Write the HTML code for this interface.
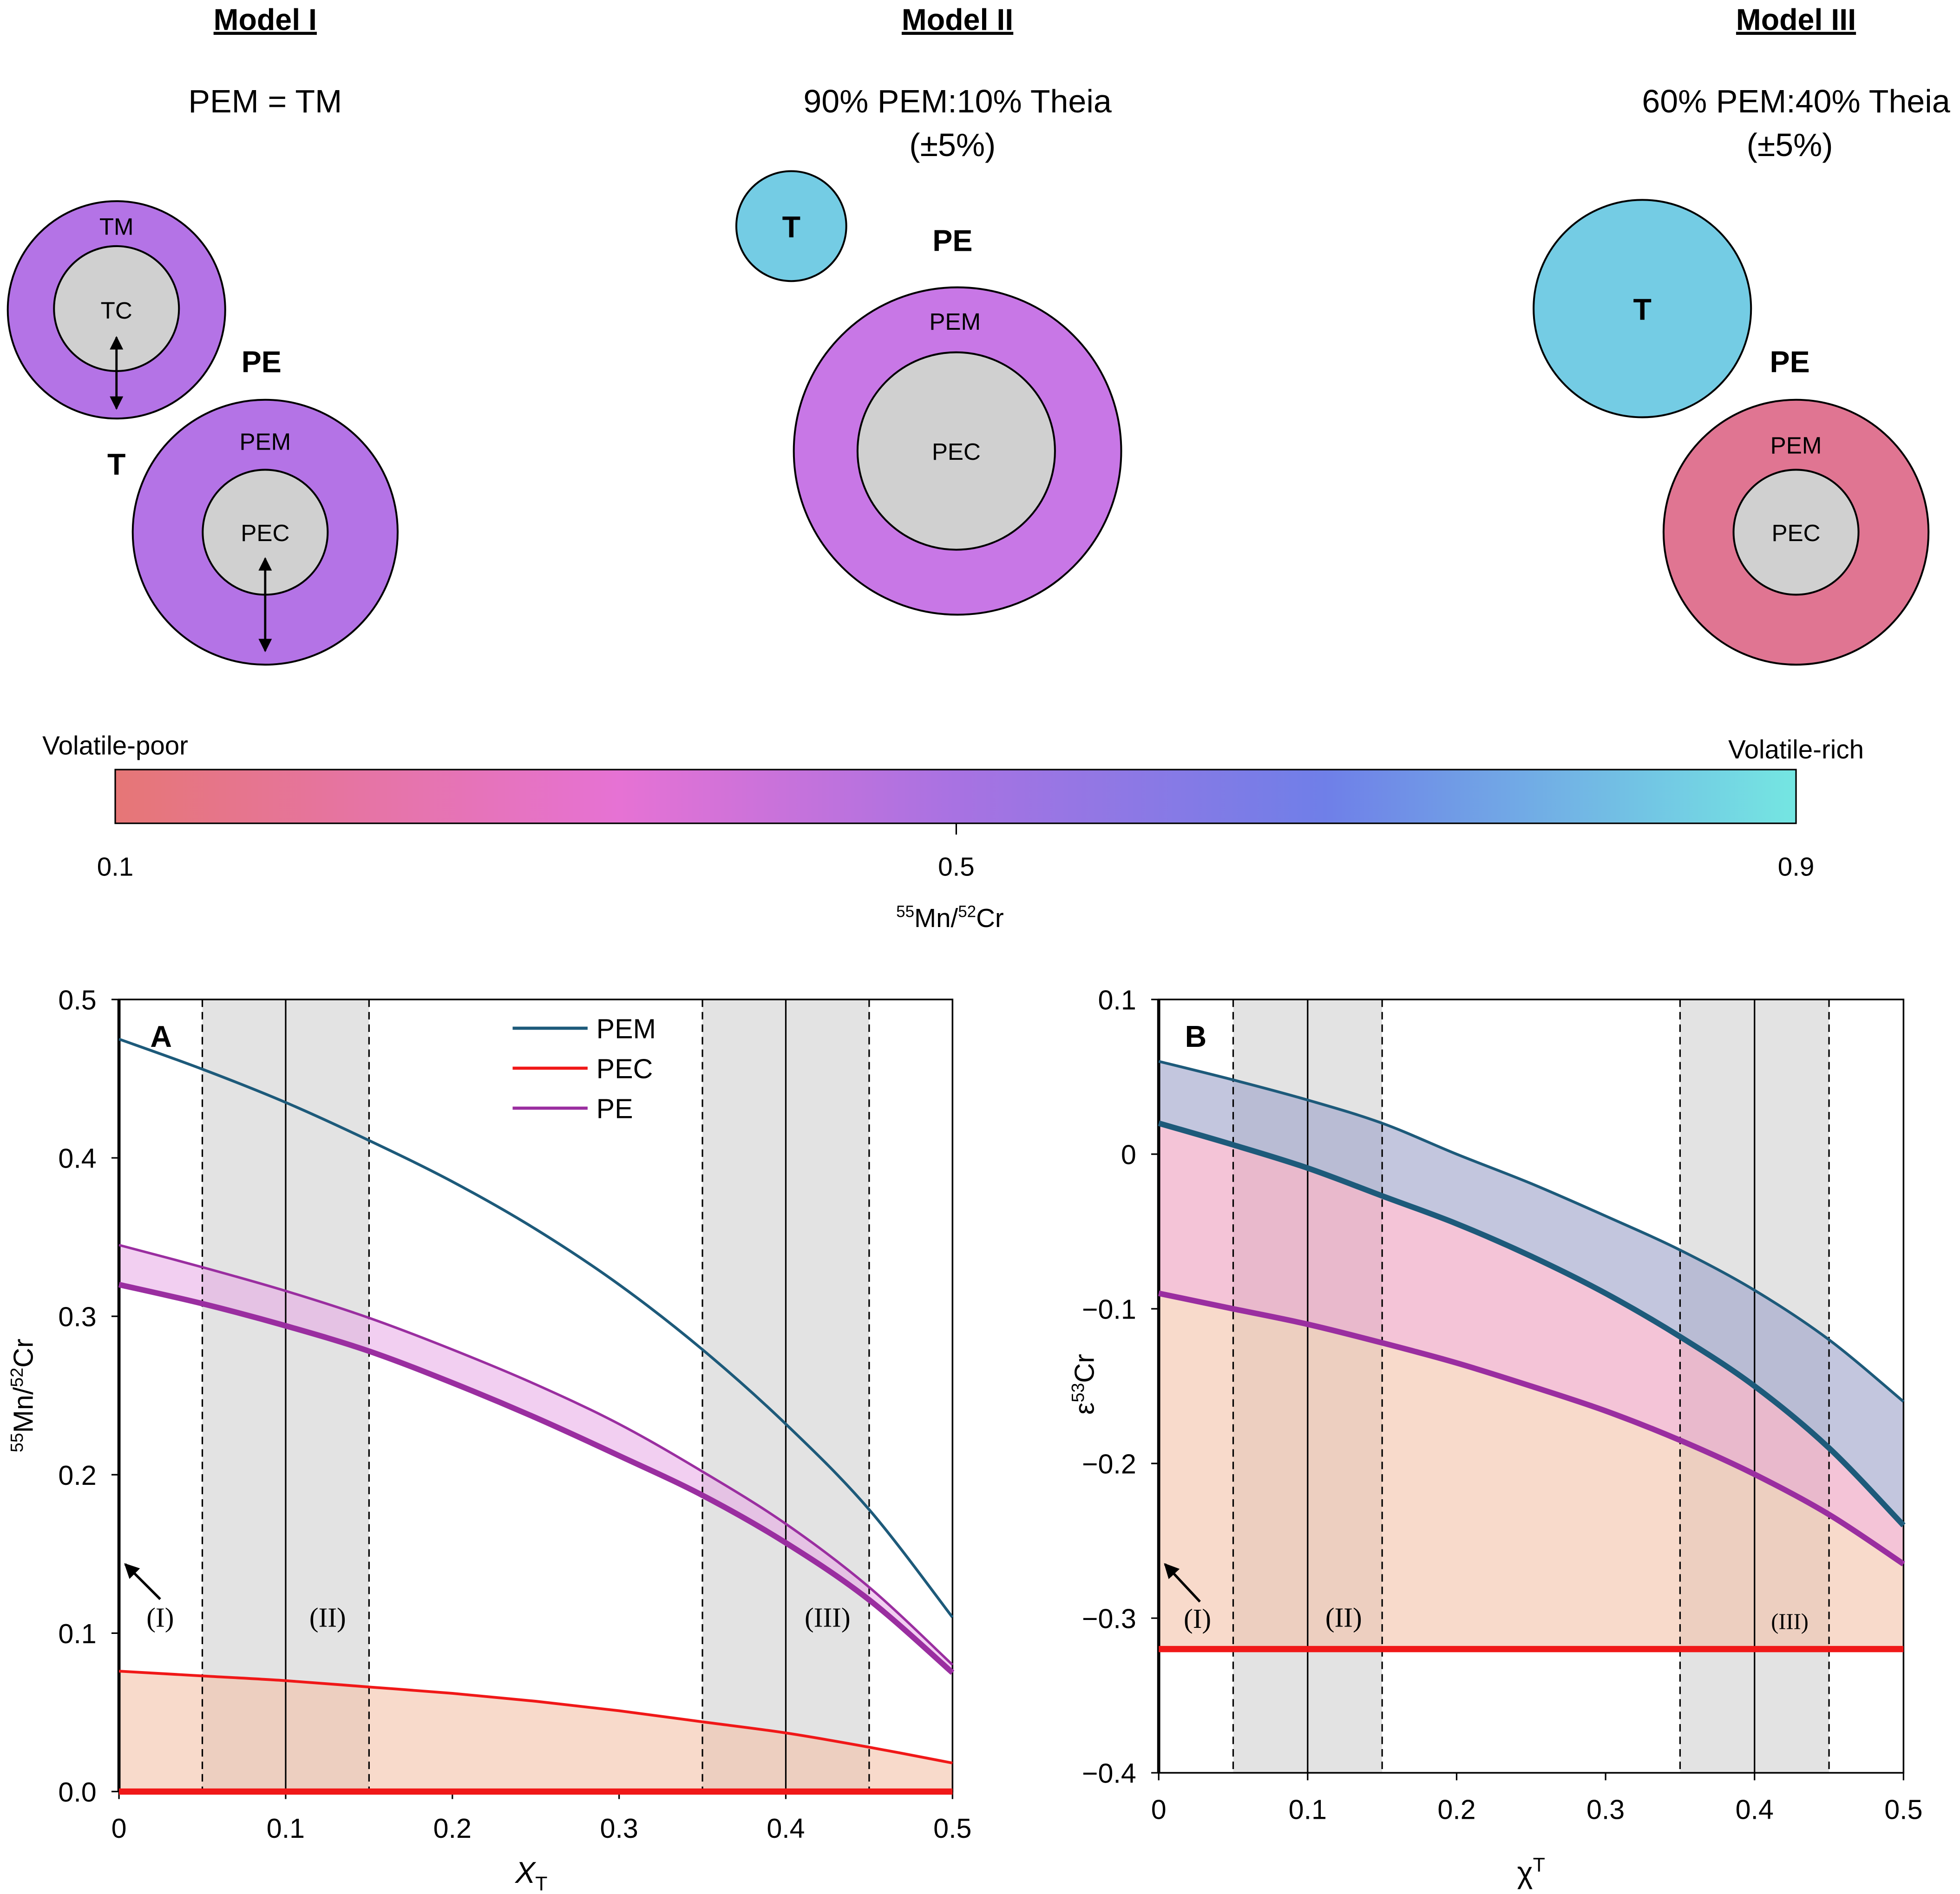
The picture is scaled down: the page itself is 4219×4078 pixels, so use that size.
<!DOCTYPE html>
<html><head><meta charset="utf-8">
<style>
html,body{margin:0;padding:0;background:#fff;}
svg{display:block;}
text{font-family:"Liberation Sans",sans-serif;}
.serif{font-family:"Liberation Serif",serif;}
</style></head>
<body>
<svg id="fig" width="4219" height="4078" viewBox="0 0 1568 1516" xmlns="http://www.w3.org/2000/svg">
<defs>
<linearGradient id="cb" x1="0" x2="1" y1="0" y2="0">
<stop offset="0" stop-color="#e67676"/>
<stop offset="0.3" stop-color="#e672d4"/>
<stop offset="0.5" stop-color="#a872e2"/>
<stop offset="0.72" stop-color="#6f7fe8"/>
<stop offset="1" stop-color="#74e6e2"/>
</linearGradient>
<marker id="ah" viewBox="0 0 10 10" refX="9" refY="5" markerWidth="6" markerHeight="6" orient="auto-start-reverse"><path d="M0,0L10,5L0,10z" fill="#000"/></marker>
</defs>

<g font-size="24">
<text x="212" y="24" text-anchor="middle" font-weight="bold" text-decoration="underline">Model I</text>
<text x="766" y="24" text-anchor="middle" font-weight="bold" text-decoration="underline">Model II</text>
<text x="1437" y="24" text-anchor="middle" font-weight="bold" text-decoration="underline">Model III</text>
<text x="212" y="90" text-anchor="middle" font-size="26">PEM = TM</text>
<text x="766" y="90" text-anchor="middle" font-size="26">90% PEM:10% Theia</text>
<text x="762" y="125" text-anchor="middle" font-size="26">(±5%)</text>
<text x="1437" y="90" text-anchor="middle" font-size="26">60% PEM:40% Theia</text>
<text x="1432" y="125" text-anchor="middle" font-size="26">(±5%)</text>

<g>
<circle cx="93" cy="248" r="87" fill="#b473e6" stroke="#000" stroke-width="1.5"/>
<circle cx="93" cy="247" r="50" fill="#d0d0d0" stroke="#000" stroke-width="1.5"/>
<text x="93" y="188" text-anchor="middle" font-size="19">TM</text>
<text x="93" y="255" text-anchor="middle" font-size="19">TC</text>
<line x1="93" y1="270" x2="93" y2="327" stroke="#000" stroke-width="1.8" marker-start="url(#ah)" marker-end="url(#ah)"/>
<text x="93" y="380" text-anchor="middle" font-weight="bold">T</text>
</g>
<g>
<text x="209" y="298" text-anchor="middle" font-weight="bold">PE</text>
<circle cx="212" cy="426" r="106" fill="#b473e6" stroke="#000" stroke-width="1.5"/>
<circle cx="212" cy="426" r="50" fill="#d0d0d0" stroke="#000" stroke-width="1.5"/>
<text x="212" y="360" text-anchor="middle" font-size="19">PEM</text>
<text x="212" y="433" text-anchor="middle" font-size="19">PEC</text>
<line x1="212" y1="447" x2="212" y2="521" stroke="#000" stroke-width="1.8" marker-start="url(#ah)" marker-end="url(#ah)"/>
</g>
<g>
<circle cx="633" cy="181" r="44" fill="#74cce4" stroke="#000" stroke-width="1.5"/>
<text x="633" y="190" text-anchor="middle" font-weight="bold">T</text>
<text x="762" y="201" text-anchor="middle" font-weight="bold">PE</text>
<circle cx="766" cy="361" r="131" fill="#c877e6" stroke="#000" stroke-width="1.5"/>
<circle cx="765" cy="361" r="79" fill="#d0d0d0" stroke="#000" stroke-width="1.5"/>
<text x="764" y="264" text-anchor="middle" font-size="19">PEM</text>
<text x="765" y="368" text-anchor="middle" font-size="19">PEC</text>
</g>
<g>
<circle cx="1314" cy="247" r="87" fill="#74cce4" stroke="#000" stroke-width="1.5"/>
<text x="1314" y="256" text-anchor="middle" font-weight="bold">T</text>
<text x="1432" y="298" text-anchor="middle" font-weight="bold">PE</text>
<circle cx="1437" cy="426" r="106" fill="#e07592" stroke="#000" stroke-width="1.5"/>
<circle cx="1437" cy="426" r="50" fill="#d0d0d0" stroke="#000" stroke-width="1.5"/>
<text x="1437" y="363" text-anchor="middle" font-size="19">PEM</text>
<text x="1437" y="433" text-anchor="middle" font-size="19">PEC</text>
</g>
</g>

<g font-size="21">
<rect x="92" y="616" width="1345" height="43" fill="url(#cb)" stroke="#000" stroke-width="1.2"/>
<line x1="765" y1="659" x2="765" y2="668" stroke="#000" stroke-width="1.2"/>
<text x="92" y="701" text-anchor="middle">0.1</text>
<text x="765" y="701" text-anchor="middle">0.5</text>
<text x="1437" y="701" text-anchor="middle">0.9</text>
<text x="92" y="604" text-anchor="middle">Volatile-poor</text>
<text x="1437" y="607" text-anchor="middle">Volatile-rich</text>
<text x="760" y="742" text-anchor="middle"><tspan font-size="13" dy="-8">55</tspan><tspan dy="8">Mn/</tspan><tspan font-size="13" dy="-8">52</tspan><tspan dy="8">Cr</tspan></text>
</g>

<g id="chartA"></g>
<g id="chartB"></g>
</svg>

<script>
const xs = [0,0.05,0.1,0.15,0.2,0.25,0.3,0.35,0.4,0.45,0.5];
// Chart A
const aPEM = [0.475,0.456,0.435,0.411,0.385,0.355,0.32,0.279,0.232,0.178,0.11];
const aPEupper = [0.345,0.331,0.316,0.299,0.279,0.257,0.232,0.202,0.169,0.129,0.08];
const aPElower = [0.320,0.308,0.294,0.278,0.258,0.236,0.212,0.187,0.157,0.121,0.075];
const aPEC = [0.076,0.073,0.070,0.066,0.062,0.057,0.051,0.044,0.037,0.028,0.018];
const aPECbase = 0;
const aYTicks = [0,0.1,0.2,0.3,0.4,0.5];
const aYTickLabels = ["0.0","0.1","0.2","0.3","0.4","0.5"];
// Chart B
const bPEMupper = [0.06,0.048,0.035,0.02,0.0,-0.019,-0.04,-0.062,-0.088,-0.12,-0.16];
const bPEMlower = [0.02,0.006,-0.009,-0.027,-0.045,-0.066,-0.09,-0.118,-0.15,-0.19,-0.24];
const bPE = [-0.09,-0.1,-0.11,-0.122,-0.135,-0.15,-0.166,-0.185,-0.207,-0.233,-0.265];
const bPEC = -0.32;
const bYTicks = [0.1,0,-0.1,-0.2,-0.3,-0.4];
const bYTickLabels = ["0.1","0","\u22120.1","\u22120.2","\u22120.3","\u22120.4"];
const xTicks = [0,0.1,0.2,0.3,0.4,0.5];
const xTickLabels = ["0","0.1","0.2","0.3","0.4","0.5"];
const bandRanges = [[0.05,0.15,0.1],[0.35,0.45,0.4]];

const NS="http://www.w3.org/2000/svg";
function mk(parent,tag,attrs){const e=document.createElementNS(NS,tag);for(const k in attrs)e.setAttribute(k,attrs[k]);parent.appendChild(e);return e;}
function pathOf(sx,sy,ys){return xs.map((x,i)=>(i?'L':'M')+sx(x).toFixed(2)+','+sy(ys[i]).toFixed(2)).join('');}
function smoothPath(sx,sy,ys){
  const p=xs.map((x,i)=>[sx(x),sy(ys[i])]);let d='M'+p[0][0]+','+p[0][1];
  for(let i=0;i<p.length-1;i++){const p0=p[i-1]||p[i],p1=p[i],p2=p[i+1],p3=p[i+2]||p2;
    const c1=[p1[0]+(p2[0]-p0[0])/6,p1[1]+(p2[1]-p0[1])/6],c2=[p2[0]-(p3[0]-p1[0])/6,p2[1]-(p3[1]-p1[1])/6];
    d+='C'+c1.join(',')+' '+c2.join(',')+' '+p2.join(',');}
  return d;}
function revPts(sx,sy,ys){return xs.slice().reverse().map((x,i)=>'L'+sx(x)+','+sy(ys[ys.length-1-i])).join('');}
function areaBetween(sx,sy,top,bot){return pathOf(sx,sy,top)+revPts(sx,sy,bot)+'Z';}

function axes(g,x0,x1,y0,y1,sx,sy){
  bandRanges.forEach(b=>{
    const r=mk(g,'rect',{x:sx(b[0]),y:y0,width:sx(b[1])-sx(b[0]),height:y1-y0,fill:'#e3e3e3'});
    
    
  });
}
function frame(g,x0,x1,y0,y1,sx,sy,yt,ytl){
  bandRanges.forEach(b=>{
    [b[0],b[1]].forEach(v=>mk(g,'line',{x1:sx(v),x2:sx(v),y1:y0,y2:y1,stroke:'#000','stroke-width':1.2,'stroke-dasharray':'6,4'}));
    mk(g,'line',{x1:sx(b[2]),x2:sx(b[2]),y1:y0,y2:y1,stroke:'#000','stroke-width':1.2});
  });
  const f=mk(g,'rect',{x:x0,y:y0,width:x1-x0,height:y1-y0,fill:'none',stroke:'#000','stroke-width':1.3});
  
  
  mk(g,'line',{x1:x0,x2:x0,y1:y0,y2:y1,stroke:'#000','stroke-width':2.5});
  yt.forEach((v,i)=>{
    mk(g,'line',{x1:x0-6,x2:x0,y1:sy(v),y2:sy(v),stroke:'#000','stroke-width':1.2});
    const t=mk(g,'text',{x:x0-18,y:sy(v)+8,'text-anchor':'end','font-size':22});t.textContent=ytl[i];
    
    
  });
  xTicks.forEach((v,i)=>{
    mk(g,'line',{x1:sx(v),x2:sx(v),y1:y1,y2:y1+6,stroke:'#000','stroke-width':1.2});
    const t=mk(g,'text',{x:sx(v),y:y1+37,'text-anchor':'middle','font-size':22});t.textContent=xTickLabels[i];
    
    
  });
}
function line(g,d,color,w,name){const p=mk(g,'path',{d:d,fill:'none',stroke:color,'stroke-width':w,'stroke-linejoin':'round'});
  
  return p;}
function txt(g,x,y,s,attrs,name){const t=mk(g,'text',Object.assign({x:x,y:y},attrs));t.textContent=s;
  
  return t;}

(function(){
  const g=document.getElementById('chartA');
  const x0=95,x1=762,y0=800,y1=1434;
  const sx=v=>x0+(v-0)/0.5*(x1-x0), sy=v=>y1-(v-0)/0.5*(y1-y0);
  axes(g,x0,x1,y0,y1,sx,sy);
  const base=xs.map(()=>aPECbase);
  const a1=mk(g,'path',{d:areaBetween(sx,sy,aPEC,base),fill:'#f4c2a8','fill-opacity':0.6});
  
  
  const a2=mk(g,'path',{d:areaBetween(sx,sy,aPEupper,aPElower),fill:'#e8a8e6','fill-opacity':0.55});
  
  
  frame(g,x0,x1,y0,y1,sx,sy,aYTicks,aYTickLabels);
  line(g,smoothPath(sx,sy,aPEM),'#1d5a7a',2.2,'pem-line');
  line(g,smoothPath(sx,sy,aPEupper),'#9a2ea0',2,'pe-upper-line');
  line(g,smoothPath(sx,sy,aPElower),'#9a2ea0',4.5,'pe-lower-line');
  line(g,smoothPath(sx,sy,aPEC),'#f01818',2.2,'pec-line');
  line(g,pathOf(sx,sy,base),'#f01818',5,'pec-base-line');
  [['PEM','#1d5a7a'],['PEC','#f01818'],['PE','#9a2ea0']].forEach((l,i)=>{
    const y=823+i*32;
    const ln=mk(g,'line',{x1:410,x2:470,y1:y,y2:y,stroke:l[1],'stroke-width':2.5});
    
    
    txt(g,477,y+8,l[0],{'font-size':22},'legend-entry');
  });
  txt(g,120,838,'A',{'font-size':24,'font-weight':'bold'},'panel-a-label');
  const ar=mk(g,'line',{x1:128,y1:1280,x2:100,y2:1252,stroke:'#000','stroke-width':2,'marker-end':'url(#ah)'});
  
  
  txt(g,128,1302,'(I)',{'font-size':22,'text-anchor':'middle',class:'serif'},'annotation-i');
  txt(g,262,1302,'(II)',{'font-size':22,'text-anchor':'middle',class:'serif'},'annotation-ii');
  txt(g,662,1302,'(III)',{'font-size':22,'text-anchor':'middle',class:'serif'},'annotation-iii');
  const yl=txt(g,0,0,'',{'font-size':22,'text-anchor':'middle',transform:'translate(26,1117) rotate(-90)'},'y-axis-title');
  yl.innerHTML='<tspan font-size="14" dy="-8">55</tspan><tspan dy="8">Mn/</tspan><tspan font-size="14" dy="-8">52</tspan><tspan dy="8">Cr</tspan>';
  const xl=txt(g,425,1507,'',{'font-size':24,'text-anchor':'middle'},'x-axis-title');
  xl.innerHTML='<tspan font-style="italic">X</tspan><tspan font-size="16" dy="6">T</tspan>';
})();

(function(){
  const g=document.getElementById('chartB');
  const x0=927,x1=1523,y0=800,y1=1419;
  const sx=v=>x0+(v-0)/0.5*(x1-x0), sy=v=>y0+(0.1-v)/0.5*(y1-y0);
  axes(g,x0,x1,y0,y1,sx,sy);
  const pec=xs.map(()=>bPEC);
  const f1=mk(g,'path',{d:areaBetween(sx,sy,bPE,pec),fill:'#f4c2a8','fill-opacity':0.6});
  
  
  const f2=mk(g,'path',{d:areaBetween(sx,sy,bPEMlower,bPE),fill:'#ec9cbc','fill-opacity':0.6});
  
  
  const f3=mk(g,'path',{d:areaBetween(sx,sy,bPEMupper,bPEMlower),fill:'#a3a8cc','fill-opacity':0.65});
  
  
  frame(g,x0,x1,y0,y1,sx,sy,bYTicks,bYTickLabels);
  line(g,smoothPath(sx,sy,bPEMupper),'#1d5a7a',2.2,'pem-upper-line');
  line(g,smoothPath(sx,sy,bPEMlower),'#1d5a7a',4.5,'pem-lower-line');
  line(g,smoothPath(sx,sy,bPE),'#9a2ea0',4.5,'pe-line');
  line(g,pathOf(sx,sy,pec),'#f01818',5,'pec-line');
  txt(g,948,838,'B',{'font-size':24,'font-weight':'bold'},'panel-b-label');
  const ar=mk(g,'line',{x1:960,y1:1282,x2:932,y2:1252,stroke:'#000','stroke-width':2,'marker-end':'url(#ah)'});
  
  
  txt(g,958,1303,'(I)',{'font-size':22,'text-anchor':'middle',class:'serif'},'annotation-i');
  txt(g,1075,1302,'(II)',{'font-size':22,'text-anchor':'middle',class:'serif'},'annotation-ii');
  txt(g,1432,1304,'(III)',{'font-size':18,'text-anchor':'middle',class:'serif'},'annotation-iii');
  const yl=txt(g,0,0,'',{'font-size':22,'text-anchor':'middle',transform:'translate(875,1108) rotate(-90)'},'y-axis-title');
  yl.innerHTML='ε<tspan font-size="14" dy="-8">53</tspan><tspan dy="8">Cr</tspan>';
  const xl=txt(g,1225,1507,'',{'font-size':24,'text-anchor':'middle'},'x-axis-title');
  xl.innerHTML='χ<tspan font-size="16" dy="-9">T</tspan>';
})();
</script>
</body></html>
